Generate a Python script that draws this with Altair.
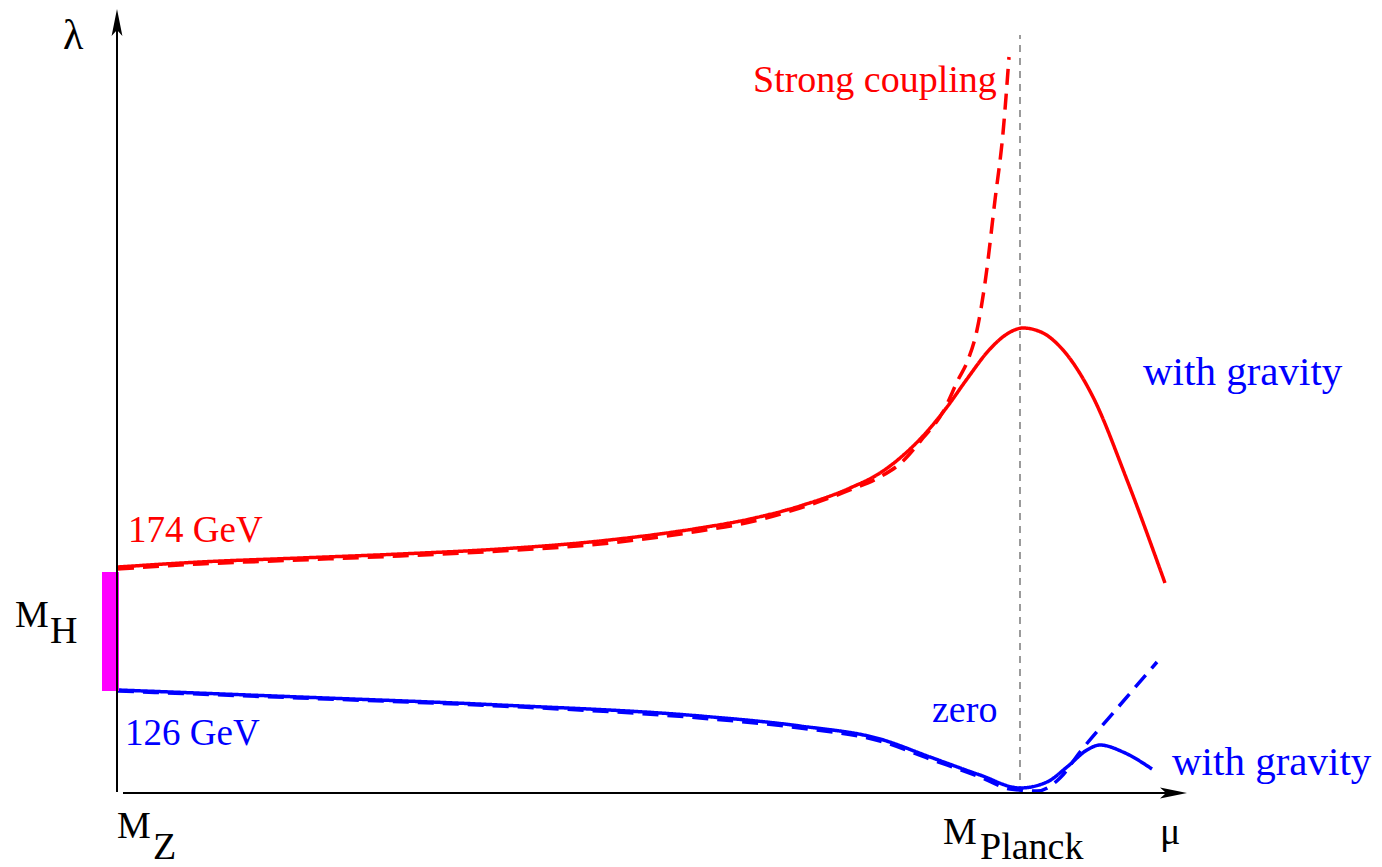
import altair as alt
import pandas as pd

# Schematic running of the Higgs self-coupling lambda(mu); arbitrary units
# mu: 0 = M_Z, 903 = M_Planck ; lam: 0 = lambda zero line

red_solid_mu = [1, 83, 183, 283, 383, 483, 583, 633, 683, 733, 763, 783, 806, 830, 850, 873, 890, 906, 926, 946, 976, 1010, 1048]
red_solid_lam = [226, 231, 235, 239, 244, 252, 265, 274, 287, 305, 320, 335, 357, 386, 414, 444, 459, 465, 460, 443, 396, 313, 210]

red_dash_mu = [1, 83, 183, 283, 383, 483, 583, 633, 683, 733, 763, 785, 806, 826, 841, 851, 860, 868, 878, 886, 892]
red_dash_lam = [224, 229, 233, 237, 242, 249, 262, 271, 285, 303, 316, 331, 355, 381, 413, 433, 463, 510, 593, 660, 736]

blue_solid_mu = [1, 183, 383, 583, 683, 763, 813, 863, 903, 930, 950, 970, 983, 1006, 1035]
blue_solid_lam = [103, 96, 88, 77, 67, 54, 36, 18, 5, 11, 26, 43, 48, 41, 24]

blue_dash_mu = [1, 183, 383, 583, 683, 763, 813, 863, 893, 920, 943, 963, 1003, 1040]
blue_dash_lam = [102, 95, 87, 75, 65, 52, 34, 16, 4, 2, 15, 41, 88, 131]

planck_mu = [903, 903]
planck_lam = [0, 758]

band_mu = [-15, 2]
band_lam = [102, 221]

label_text = ["\u03bb", "M", "H", "174 GeV", "126 GeV", "Strong coupling",
              "with gravity", "with gravity", "zero", "M", "Z", "M", "Planck", "\u03bc"]
label_mu = [-54, -102, -67, 11, 8, 636, 1026, 1055, 815, 0, 36, 826, 863, 1043]
label_lam = [744, 166, 150, 251, 48, 701, 408, 18, 71, -45, -66, -51, -66, -51]
label_size = [42, 38, 38, 37, 37, 38, 41, 41, 38, 38, 38, 38, 38, 38]
label_col = ["black", "black", "black", "#ff0000", "#0000ff", "#ff0000",
             "#0000ff", "#0000ff", "#0000ff", "black", "black", "black", "black", "black"]


def line_df(mu, lam, name, col, dash):
    return pd.DataFrame({"mu": mu, "lam": lam, "series": name, "col": col,
                         "dash": dash, "i": list(range(len(mu)))})


curves = pd.concat([
    line_df(red_dash_mu, red_dash_lam, "red_dash", "#ff0000", "dashed"),
    line_df(blue_dash_mu, blue_dash_lam, "blue_dash", "#0000ff", "dashed"),
    line_df(red_solid_mu, red_solid_lam, "red_solid", "#ff0000", "solid"),
    line_df(blue_solid_mu, blue_solid_lam, "blue_solid", "#0000ff", "solid"),
])

X = alt.Scale(domain=[-109, 1257], nice=False, zero=False)
Y = alt.Scale(domain=[-74, 785], nice=False, zero=False)

planck = alt.Chart(pd.DataFrame({"mu": planck_mu, "lam": planck_lam})).mark_line(
    color="#666666", strokeWidth=1.3, strokeDash=[7, 6]
).encode(x=alt.X("mu:Q", scale=X, axis=None), y=alt.Y("lam:Q", scale=Y, axis=None))

lines = alt.Chart(curves).mark_line(strokeWidth=3.5, interpolate="monotone").encode(
    x=alt.X("mu:Q", scale=X, axis=None),
    y=alt.Y("lam:Q", scale=Y, axis=None),
    color=alt.Color("col:N", scale=None),
    strokeDash=alt.StrokeDash("dash:N", scale=alt.Scale(domain=["solid", "dashed"], range=[[1, 0], [16, 9]]), legend=None),
    detail="series:N",
    order="i:Q",
)

band = alt.Chart(pd.DataFrame({"x1": [band_mu[0]], "x2": [band_mu[1]], "y1": [band_lam[0]], "y2": [band_lam[1]]})).mark_rect(
    color="#ff00ff"
).encode(x=alt.X("x1:Q", scale=X, axis=None), x2="x2:Q", y=alt.Y("y1:Q", scale=Y, axis=None), y2="y2:Q")

axes_df = pd.DataFrame({"x1": [0, 6], "y1": [1, 0], "x2": [0, 1058], "y2": [772, 0]})
axes = alt.Chart(axes_df).mark_rule(color="black", strokeWidth=2).encode(
    x=alt.X("x1:Q", scale=X, axis=None), y=alt.Y("y1:Q", scale=Y, axis=None), x2="x2:Q", y2="y2:Q"
)

arrow_df = pd.DataFrame({
    "mu": [0, 1070 - 13.5],
    "lam": [784 - 13.5, 0],
    "shape": ["M0,-1 L0.4,1 L0,0.55 L-0.4,1 Z", "M1,0 L-1,0.4 L-0.55,0 L-1,-0.4 Z"],
})
arrows = alt.Chart(arrow_df).mark_point(filled=True, color="black", opacity=1, size=729, strokeWidth=0).encode(
    x=alt.X("mu:Q", scale=X, axis=None), y=alt.Y("lam:Q", scale=Y, axis=None),
    shape=alt.Shape("shape:N", scale=None),
)

labels = alt.Chart(pd.DataFrame({"t": label_text, "mu": label_mu, "lam": label_lam,
                                 "col": label_col, "fs": label_size})).mark_text(
    align="left", baseline="alphabetic", font="Liberation Serif"
).encode(
    x=alt.X("mu:Q", scale=X, axis=None), y=alt.Y("lam:Q", scale=Y, axis=None),
    text="t:N", color=alt.Color("col:N", scale=None), size=alt.Size("fs:Q", scale=None),
)

chart = alt.layer(planck, lines, band, axes, arrows, labels).properties(
    width=1366, height=859, padding=0, autosize="none"
).configure_view(stroke=None)

chart.save("out.html", embed_options={"renderer": "svg", "actions": False})
